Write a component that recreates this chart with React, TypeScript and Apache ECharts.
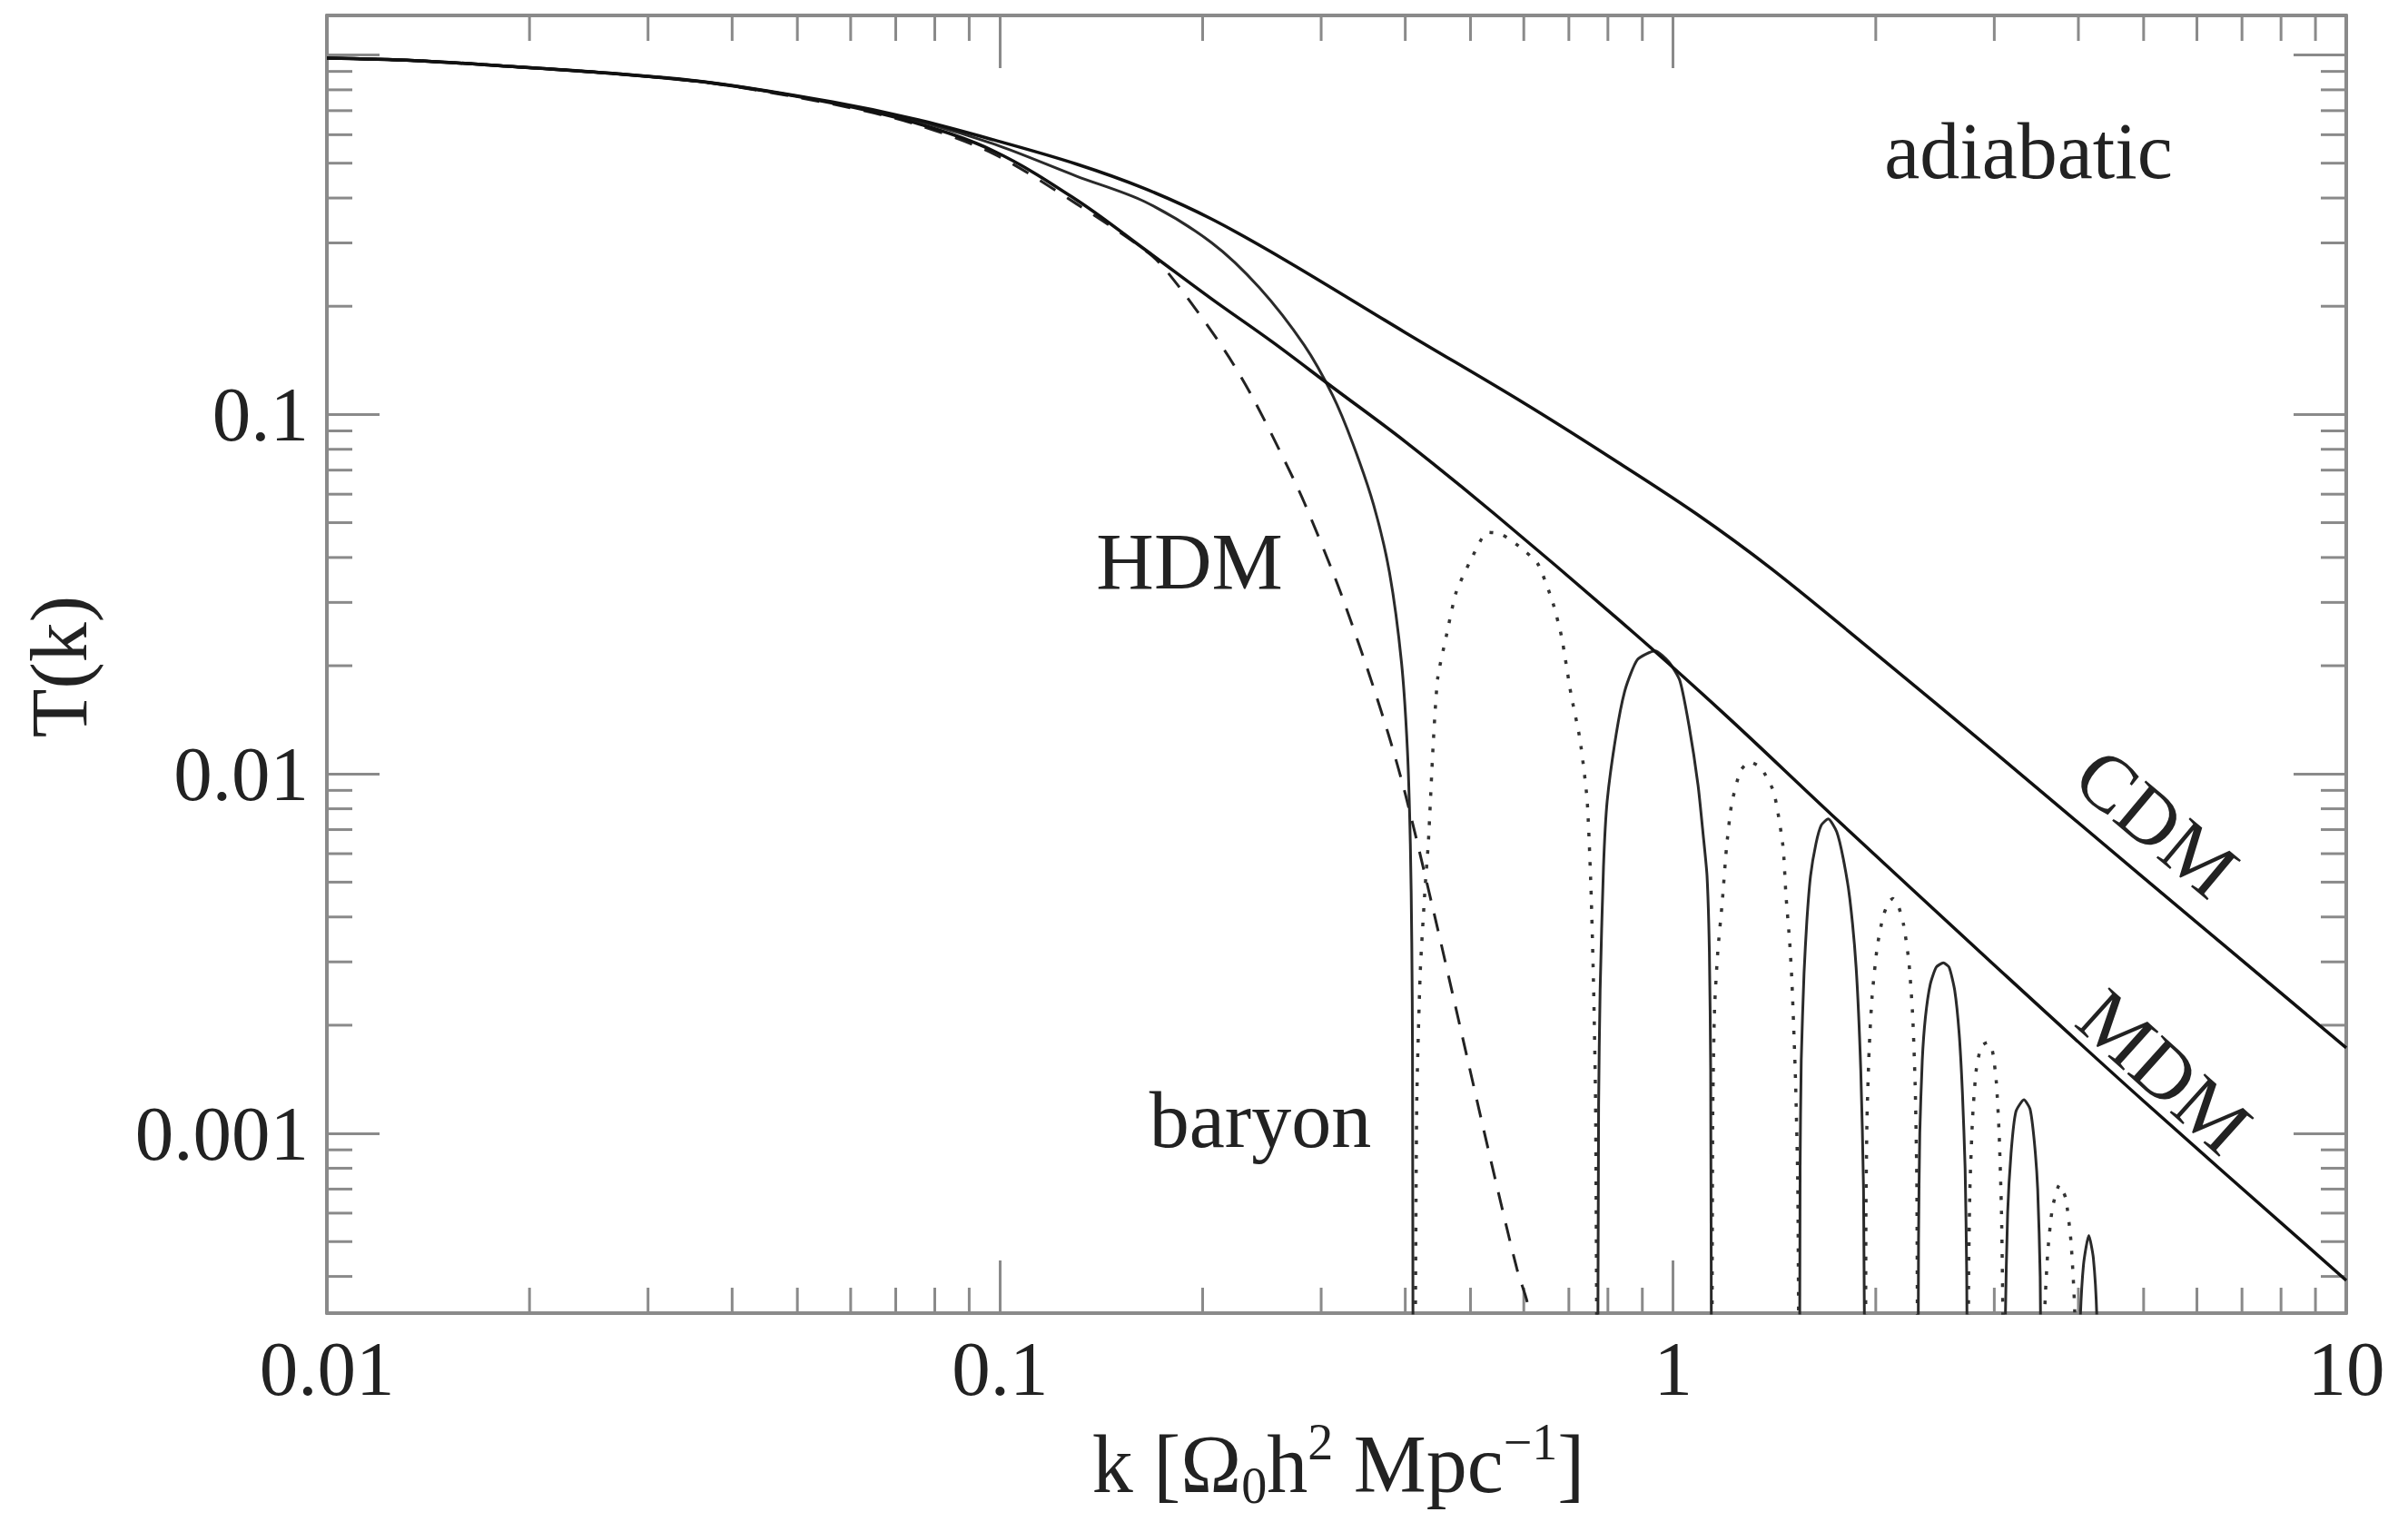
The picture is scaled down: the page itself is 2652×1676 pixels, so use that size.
import React, { useEffect, useRef } from 'react';
import * as echarts from 'echarts';

// ---------- axis data ----------
const xTickValues = [0.01, 0.1, 1, 10];
const xTickLabels = ['0.01', '0.1', '1', '10'];
const yTickValues = [0.001, 0.01, 0.1];
const yTickLabels = ['0.001', '0.01', '0.1'];
const xMin = 0.01;
const xMax = 10;
const yMin = 0.00031623;
const yMax = 1.2882;
const xMinorTicks = [0.02, 0.03, 0.04, 0.05, 0.06, 0.07, 0.08, 0.09, 0.2, 0.3, 0.4, 0.5, 0.6, 0.7, 0.8, 0.9, 2, 3, 4, 5, 6, 7, 8, 9];
const yMinorTicks = [0.0004, 0.0005, 0.0006, 0.0007, 0.0008, 0.0009, 0.002, 0.003, 0.004, 0.005, 0.006, 0.007, 0.008, 0.009, 0.02, 0.03, 0.04, 0.05, 0.06, 0.07, 0.08, 0.09, 0.2, 0.3, 0.4, 0.5, 0.6, 0.7, 0.8, 0.9];

// ---------- curves: [k, T(k)] ----------
const cdm = [[0.01, 0.98], [0.0135, 0.965], [0.0186, 0.93], [0.0262, 0.89], [0.0372, 0.838], [0.0564, 0.74], [0.0743, 0.665], [0.098, 0.58], [0.13, 0.497], [0.164, 0.425], [0.206, 0.35], [0.266, 0.268], [0.4, 0.169], [0.6, 0.1076], [0.8, 0.0767], [1.08, 0.0531], [1.4, 0.0372], [2, 0.0216], [3, 0.0115], [5, 0.00514], [10, 0.00173]];
const mdm = [[0.01, 0.98], [0.0135, 0.965], [0.0186, 0.93], [0.0262, 0.89], [0.0372, 0.836], [0.0564, 0.735], [0.0743, 0.65], [0.098, 0.54], [0.13, 0.395], [0.164, 0.288], [0.206, 0.21], [0.254, 0.159], [0.312, 0.119], [0.4, 0.084], [0.544, 0.0527], [0.876, 0.0246], [1.2, 0.0145], [1.72, 0.0077], [3, 0.00294], [5, 0.00123], [10, 0.00039]];
const hdm = [[0.01, 0.98], [0.0135, 0.965], [0.0186, 0.93], [0.0262, 0.89], [0.0372, 0.835], [0.0564, 0.73], [0.0743, 0.645], [0.098, 0.53], [0.13, 0.385], [0.1675, 0.278], [0.184, 0.228], [0.215, 0.152], [0.237, 0.112], [0.267, 0.072], [0.283, 0.057], [0.313, 0.036], [0.33, 0.0275], [0.354, 0.0188], [0.378, 0.0128], [0.4, 0.0088], [0.44, 0.0042], [0.485, 0.0019], [0.533, 0.00088], [0.586, 0.00042], [0.607, 0.00034], [0.64, 0.00022]];

// baryon transfer function: solid where T > 0, dotted where T < 0 (|T| plotted)
const baryonSolid1 = [[0.01, 0.98], [0.0135, 0.965], [0.0186, 0.93], [0.0262, 0.89], [0.0372, 0.837], [0.0564, 0.737], [0.0743, 0.66], [0.098, 0.565], [0.13, 0.46], [0.164, 0.391], [0.206, 0.301], [0.243, 0.225], [0.283, 0.156], [0.312, 0.113], [0.334, 0.0833], [0.359, 0.056], [0.379, 0.0363], [0.395, 0.0203], [0.403, 0.0116], [0.407, 0.0064], [0.409, 0.0034], [0.41, 0.0017], [0.411, 0.0001]];
const baryonDotted1 = [[0.413, 0.0001], [0.416, 0.0012], [0.421, 0.0028], [0.428, 0.0048], [0.433, 0.0065], [0.44, 0.012], [0.447, 0.0185], [0.461, 0.0245], [0.476, 0.032], [0.501, 0.0395], [0.53, 0.047], [0.555, 0.0465], [0.59, 0.043], [0.629, 0.0385], [0.6625, 0.03], [0.683, 0.024], [0.705, 0.0167], [0.727, 0.0125], [0.745, 0.0085], [0.755, 0.0048], [0.762, 0.0025], [0.767, 0.0012], [0.772, 0.0001]];
const baryonSolid2 = [[0.772, 0.0001], [0.775, 0.0012], [0.779, 0.0025], [0.788, 0.0055], [0.798, 0.0084], [0.823, 0.0129], [0.849, 0.0172], [0.885, 0.0208], [0.94, 0.022], [0.985, 0.0205], [1.023, 0.0182], [1.056, 0.0136], [1.089, 0.0093], [1.108, 0.0068], [1.123, 0.0052], [1.132, 0.0032], [1.137, 0.0015], [1.141, 0.0001]];
const baryonDotted2 = [[1.141, 0.0001], [1.145, 0.0011], [1.152, 0.0022], [1.165, 0.0032], [1.183, 0.0044], [1.2, 0.0062], [1.221, 0.0082], [1.259, 0.0102], [1.3, 0.0108], [1.35, 0.0104], [1.411, 0.0089], [1.456, 0.0063], [1.471, 0.0046], [1.49, 0.0034], [1.502, 0.0026], [1.52, 0.0014], [1.532, 0.0007], [1.54, 0.0001]];
const baryonSolid3 = [[1.54, 0.0001], [1.544, 0.0008], [1.55, 0.0016], [1.565, 0.0028], [1.58, 0.0039], [1.6, 0.0052], [1.63, 0.0064], [1.66, 0.0072], [1.7, 0.0075], [1.75, 0.0069], [1.79, 0.0058], [1.83, 0.0045], [1.87, 0.0029], [1.9, 0.0015], [1.918, 0.0007], [1.93, 0.0001]];
const baryonDotted3 = [[1.93, 0.0001], [1.934, 0.0006], [1.941, 0.0011], [1.955, 0.0017], [1.975, 0.0024], [2.01, 0.0033], [2.05, 0.004], [2.09, 0.0044], [2.12, 0.0045], [2.16, 0.0043], [2.2, 0.0038], [2.24, 0.003], [2.27, 0.0021], [2.29, 0.0013], [2.302, 0.0007], [2.31, 0.0001]];
const baryonSolid4 = [[2.31, 0.0001], [2.315, 0.0005], [2.325, 0.001], [2.345, 0.0016], [2.37, 0.0021], [2.41, 0.0026], [2.46, 0.0029], [2.52, 0.00298], [2.57, 0.0029], [2.62, 0.0025], [2.66, 0.0019], [2.69, 0.0013], [2.715, 0.0008], [2.73, 0.0004], [2.74, 0.0001]];
const baryonDotted4 = [[2.74, 0.0001], [2.748, 0.0004], [2.76, 0.0007], [2.785, 0.0011], [2.82, 0.0015], [2.87, 0.00175], [2.93, 0.00179], [2.98, 0.0017], [3.02, 0.0014], [3.05, 0.001], [3.075, 0.0006], [3.09, 0.0003], [3.1, 0.0001]];
const baryonSolid5 = [[3.1, 0.0001], [3.115, 0.0003], [3.14, 0.0006], [3.18, 0.0009], [3.23, 0.00115], [3.32, 0.00124], [3.39, 0.00117], [3.44, 0.00095], [3.48, 0.0007], [3.51, 0.0004], [3.53, 0.0001]];
const baryonDotted5 = [[3.53, 0.0001], [3.56, 0.0003], [3.6, 0.00046], [3.66, 0.00062], [3.75, 0.00072], [3.83, 0.00066], [3.9, 0.0005], [3.95, 0.00032], [3.98, 0.0001]];
const baryonSolid6 = [[3.98, 0.0001], [4.02, 0.00028], [4.07, 0.00043], [4.145, 0.00052], [4.21, 0.00045], [4.26, 0.00031], [4.31, 0.0001]];

const baryonSolidHumps = [baryonSolid1, baryonSolid2, baryonSolid3, baryonSolid4, baryonSolid5, baryonSolid6];
const baryonDottedHumps = [baryonDotted1, baryonDotted2, baryonDotted3, baryonDotted4, baryonDotted5];

// ---------- styling ----------
const FONT = '"Liberation Serif", "Times New Roman", serif';
const AXIS_COLOR = '#8a8a8a';
const TEXT_COLOR = '#222';
const MAJOR_LEN = 58;
const MINOR_LEN = 28;

function labelFor(v: number, values: number[], labels: string[]) {
  const lv = Math.log10(v);
  const i = values.findIndex((t) => Math.abs(Math.log10(t) - lv) < 1e-4);
  return i >= 0 ? labels[i] : '';
}

function makeAxis(kind: 'x' | 'y', position: string, showLabels: boolean) {
  const isX = kind === 'x';
  return {
    type: 'log',
    logBase: 10,
    position,
    min: isX ? xMin : yMin,
    max: isX ? xMax : yMax,
    axisLine: { show: true, onZero: false, lineStyle: { color: AXIS_COLOR, width: 4 } },
    axisTick: { show: true, inside: true, length: MAJOR_LEN, lineStyle: { color: AXIS_COLOR, width: 3 } },
    minorTick: { show: false },
    splitLine: { show: false },
    axisLabel: {
      show: showLabels,
      fontFamily: FONT,
      fontSize: 85,
      color: TEXT_COLOR,
      margin: isX ? 18 : 20,
      showMinLabel: true,
      showMaxLabel: true,
      hideOverlap: false,
      formatter: (v: number) => (isX ? labelFor(v, xTickValues, xTickLabels) : labelFor(v, yTickValues, yTickLabels)),
    },
  };
}

const lineBase = {
  type: 'line',
  showSymbol: false,
  symbol: 'none',
  clip: true,
  silent: true,
  smooth: 0.2,
};

function buildOption() {
  const series: any[] = [];

  // minor ticks on all four sides, positioned through the axes' scales
  series.push({
    type: 'custom',
    silent: true,
    clip: false,
    z: 1,
    data: xMinorTicks.map((v) => [v, 0.1]),
    renderItem: (params: any, api: any) => {
      const x = api.coord([api.value(0), 0.1])[0];
      const cs = params.coordSys;
      const st = { stroke: AXIS_COLOR, lineWidth: 3 };
      return {
        type: 'group',
        children: [
          { type: 'line', shape: { x1: x, y1: cs.y + cs.height, x2: x, y2: cs.y + cs.height - MINOR_LEN }, style: st },
          { type: 'line', shape: { x1: x, y1: cs.y, x2: x, y2: cs.y + MINOR_LEN }, style: st },
        ],
      };
    },
  });
  series.push({
    type: 'custom',
    silent: true,
    clip: false,
    z: 1,
    data: yMinorTicks.map((v) => [1, v]),
    renderItem: (params: any, api: any) => {
      const y = api.coord([1, api.value(1)])[1];
      const cs = params.coordSys;
      const st = { stroke: AXIS_COLOR, lineWidth: 3 };
      return {
        type: 'group',
        children: [
          { type: 'line', shape: { x1: cs.x, y1: y, x2: cs.x + MINOR_LEN, y2: y }, style: st },
          { type: 'line', shape: { x1: cs.x + cs.width, y1: y, x2: cs.x + cs.width - MINOR_LEN, y2: y }, style: st },
        ],
      };
    },
  });

  series.push({ ...lineBase, name: 'CDM', data: cdm, z: 5, smooth: 0.35, lineStyle: { color: '#111', width: 3.5 } });
  series.push({ ...lineBase, name: 'MDM', data: mdm, z: 5, smooth: 0.35, lineStyle: { color: '#111', width: 3.5 } });
  series.push({ ...lineBase, name: 'HDM', data: hdm, z: 4, smooth: 0.3, lineStyle: { color: '#222', width: 3, type: [20, 15] } });
  baryonSolidHumps.forEach((d, i) => {
    series.push({ ...lineBase, name: 'baryon +' + i, data: d, z: 4, smooth: i === 0 ? 0.3 : 0.2, lineStyle: { color: '#2a2a2a', width: 3 } });
  });
  baryonDottedHumps.forEach((d, i) => {
    series.push({ ...lineBase, name: 'baryon -' + i, data: d, z: 3, lineStyle: { color: '#333', width: 3.5, type: [4, 12] } });
  });

  const textStyle = (text: string, size = 88) => ({
    text,
    fontFamily: FONT,
    fontSize: size,
    fill: TEXT_COLOR,
    align: 'center',
    verticalAlign: 'middle',
  });

  const graphic = [
    { type: 'text', x: 2234, y: 166, style: textStyle('adiabatic') },
    { type: 'text', x: 1310, y: 618, style: textStyle('HDM') },
    { type: 'text', x: 1388, y: 1233, style: textStyle('baryon') },
    { type: 'text', x: 2375, y: 906, rotation: (-40 * Math.PI) / 180, style: textStyle('CDM') },
    { type: 'text', x: 2384, y: 1180, rotation: (-42 * Math.PI) / 180, style: textStyle('MDM') },
    { type: 'text', x: 65, y: 734, rotation: Math.PI / 2, style: textStyle('T(k)') },
    {
      type: 'text',
      x: 1474,
      y: 1612,
      style: {
        text: '{n|k [Ω}{sub|0}{n|h}{sup|2}{n| Mpc}{sup|−1}{n|]}',
        fontFamily: FONT,
        fontSize: 90,
        fill: TEXT_COLOR,
        align: 'center',
        verticalAlign: 'middle',
        rich: {
          n: { fontFamily: FONT, fontSize: 90, lineHeight: 104, fill: TEXT_COLOR, verticalAlign: 'middle' },
          sup: { fontFamily: FONT, fontSize: 56, lineHeight: 56, fill: TEXT_COLOR, verticalAlign: 'top' },
          sub: { fontFamily: FONT, fontSize: 56, lineHeight: 56, fill: TEXT_COLOR, verticalAlign: 'bottom' },
        },
      },
    },
  ];

  return {
    animation: false,
    backgroundColor: '#ffffff',
    grid: { left: 360, right: 68, top: 17, bottom: 230, containLabel: false, outerBoundsMode: 'none' },
    xAxis: [makeAxis('x', 'bottom', true), makeAxis('x', 'top', false)],
    yAxis: [makeAxis('y', 'left', true), makeAxis('y', 'right', false)],
    series,
    graphic,
  };
}

export default function App() {
  const ref = useRef<HTMLDivElement>(null);
  useEffect(() => {
    if (!ref.current) return;
    const chart = echarts.init(ref.current, null, { renderer: 'svg' });
    chart.setOption(buildOption() as any);
    return () => {
      chart.dispose();
    };
  }, []);
  return (
    <div
      ref={ref}
      style={{ position: 'absolute', left: 0, top: 0, width: 2652, height: 1676, background: '#fff' }}
    />
  );
}
